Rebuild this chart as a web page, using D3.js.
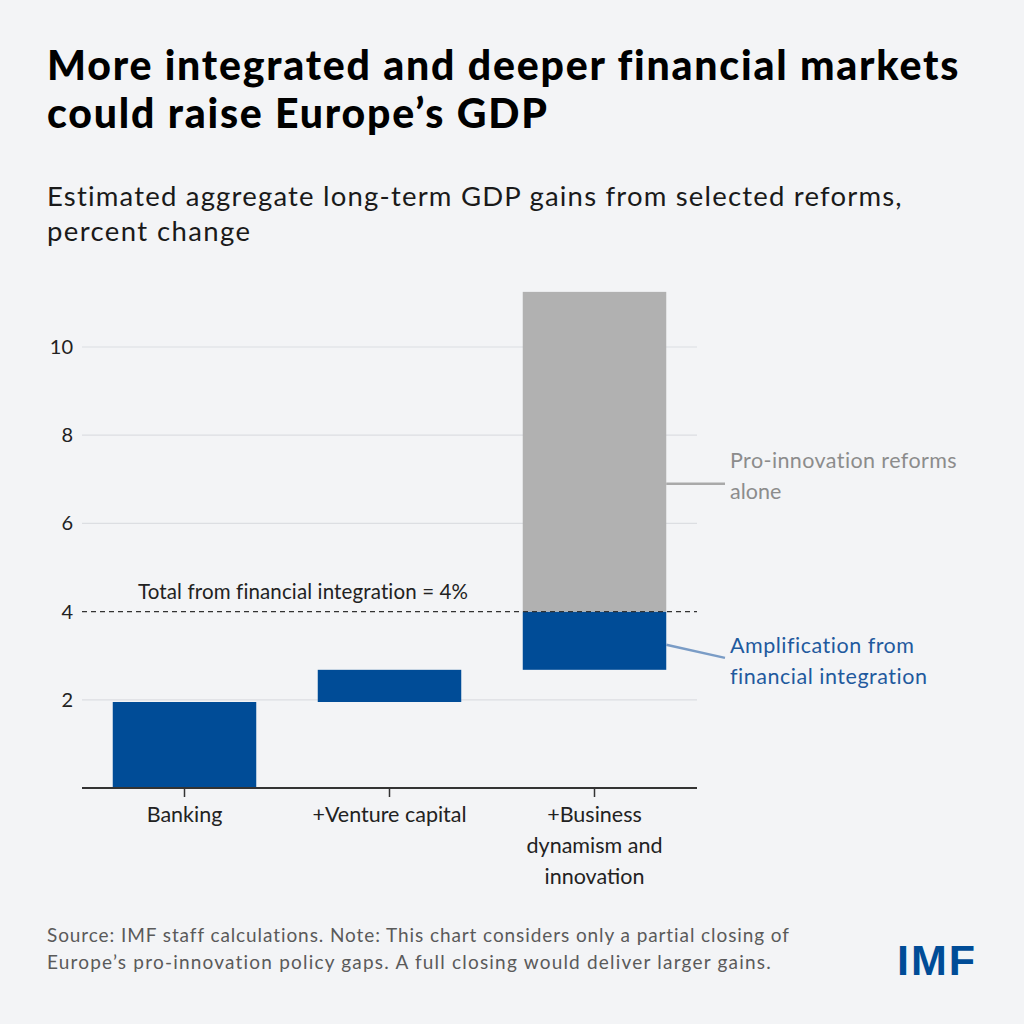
<!DOCTYPE html>
<html>
<head>
<meta charset="utf-8">
<script src="https://cdn.jsdelivr.net/npm/d3@7"></script>
<style>
  html, body { margin: 0; padding: 0; background: #f3f4f6; }
  svg { display: block; font-family: Lato, "Noto Sans", sans-serif; }
</style>
</head>
<body>
<svg id="chart" width="1024" height="1024"></svg>
<script>
// data
var categories = ["Banking", "+Venture capital", "+Business dynamism and innovation"];
var categoryLines = [["Banking"], ["+Venture capital"], ["+Business", "dynamism and", "innovation"]];
var financialFrom = [0, 1.95, 2.68];
var financialTo = [1.95, 2.68, 4.0];
var innovationFrom = [null, null, 4.0];
var innovationTo = [null, null, 11.25];
var yTicks = [2, 4, 6, 8, 10];
var totalLine = 4;

var blue = "#004c97", gray = "#b1b1b1";

var svg = d3.select("#chart");
svg.append("rect").attr("width", 1024).attr("height", 1024).attr("fill", "#f3f4f6");

// widen a line of text to the width it has in the reference, using letter-spacing
function spread(sel, width) {
  sel.each(function() {
    var n = this.textContent.length;
    var len = this.getComputedTextLength();
    if (n > 1) d3.select(this).attr("letter-spacing", ((width - len) / (n - 1)).toFixed(3));
  });
}

// title
var title = svg.append("text").attr("font-weight", 900)
    .attr("font-size", 41).attr("fill", "#000");
title.append("tspan").attr("x", 47).attr("y", 80).text("More integrated and deeper financial markets").call(spread, 911);
title.append("tspan").attr("x", 47).attr("y", 128).text("could raise Europe\u2019s GDP").call(spread, 500);

var sub = svg.append("text").attr("font-size", 27.5).attr("fill", "#1a1a1a");
sub.append("tspan").attr("x", 47).attr("y", 206).text("Estimated aggregate long-term GDP gains from selected reforms,").call(spread, 855);
sub.append("tspan").attr("x", 47).attr("y", 241).text("percent change").call(spread, 203);

// scales
var x = d3.scaleBand().domain(categories).range([82, 697]).paddingInner(0.3).paddingOuter(0.15);
var y = d3.scaleLinear().domain([0, 10]).range([788, 347]);

// gridlines
svg.append("g").selectAll("line").data(yTicks.filter(function(d){ return d !== totalLine; }))
  .join("line")
    .attr("x1", 82).attr("x2", 697)
    .attr("y1", function(d){ return y(d); }).attr("y2", function(d){ return y(d); })
    .attr("stroke", "#dcdee2").attr("stroke-width", 1.2);

// y axis labels
var yAxis = svg.append("g").attr("transform", "translate(82,0)")
    .call(d3.axisLeft(y).tickValues(yTicks).tickSize(0).tickPadding(9));
yAxis.select(".domain").remove();
yAxis.selectAll("text").attr("font-family", "Lato, 'Noto Sans', sans-serif")
    .attr("font-size", 20).attr("fill", "#222");

// bars
var idx = d3.range(categories.length);
svg.append("g").selectAll("rect").data(idx).join("rect")
    .attr("x", function(i){ return x(categories[i]); })
    .attr("width", x.bandwidth())
    .attr("y", function(i){ return y(financialTo[i]); })
    .attr("height", function(i){ return y(financialFrom[i]) - y(financialTo[i]); })
    .attr("fill", blue);

svg.append("g").selectAll("rect").data(idx.filter(function(i){ return innovationTo[i] != null; }))
  .join("rect")
    .attr("x", function(i){ return x(categories[i]); })
    .attr("width", x.bandwidth())
    .attr("y", function(i){ return y(innovationTo[i]); })
    .attr("height", function(i){ return y(innovationFrom[i]) - y(innovationTo[i]); })
    .attr("fill", gray);

// dashed total line
svg.append("line")
    .attr("x1", 82).attr("x2", 697)
    .attr("y1", y(totalLine)).attr("y2", y(totalLine))
    .attr("stroke", "#333").attr("stroke-width", 1.2).attr("stroke-dasharray", "5,4");
svg.append("text").attr("x", 138).attr("y", y(totalLine) - 13)
    .attr("font-size", 20.5).attr("fill", "#222")
    .text("Total from financial integration = 4%").call(spread, 330);

// x axis
var xAxis = svg.append("g").attr("transform", "translate(0," + y(0) + ")")
    .call(d3.axisBottom(x).tickSize(9).tickFormat(""));
xAxis.select(".domain").attr("stroke", "#333").attr("stroke-width", 2)
    .attr("d", "M82,0H697");
xAxis.selectAll(".tick line").attr("stroke", "#333").attr("stroke-width", 1.5);

svg.append("g").selectAll("text").data(idx).join("text")
    .attr("text-anchor", "middle").attr("font-size", 21.5).attr("fill", "#222")
    .each(function(i){
      var t = d3.select(this);
      categoryLines[i].forEach(function(l, k){
        t.append("tspan").attr("x", x(categories[i]) + x.bandwidth() / 2)
          .attr("y", y(0) + 34 + k * 31).text(l);
      });
    });

// annotations
var last = categories[2];
var barRight = x(last) + x.bandwidth();
svg.append("line").attr("x1", barRight).attr("x2", 725)
    .attr("y1", y(6.9)).attr("y2", y(6.9))
    .attr("stroke", "#a9a9a9").attr("stroke-width", 2.5);
var a1 = svg.append("text").attr("font-size", 21.5).attr("fill", "#8c8c8c");
a1.append("tspan").attr("x", 730).attr("y", 468).text("Pro-innovation reforms").call(spread, 227);
a1.append("tspan").attr("x", 730).attr("y", 499).text("alone");

svg.append("line").attr("x1", barRight).attr("x2", 725)
    .attr("y1", y(3.25)).attr("y2", y(2.95))
    .attr("stroke", "#7a9cc6").attr("stroke-width", 2.5);
var a2 = svg.append("text").attr("font-size", 21.5).attr("fill", "#1f5a9e");
a2.append("tspan").attr("x", 730).attr("y", 653).text("Amplification from").call(spread, 184);
a2.append("tspan").attr("x", 730).attr("y", 684).text("financial integration").call(spread, 197);

// source
var src = svg.append("text").attr("font-size", 19).attr("fill", "#5a5a5a");
src.append("tspan").attr("x", 47).attr("y", 942).text("Source: IMF staff calculations. Note: This chart considers only a partial closing of").call(spread, 742);
src.append("tspan").attr("x", 47).attr("y", 969).text("Europe\u2019s pro-innovation policy gaps. A full closing would deliver larger gains.").call(spread, 724);

svg.append("text").attr("x", 897).attr("y", 975)
    .attr("font-family", "'Liberation Sans', Arial, sans-serif")
    .attr("font-weight", 700).attr("font-size", 43).attr("fill", blue)
    .text("IMF").call(spread, 78);
</script>
</body>
</html>
